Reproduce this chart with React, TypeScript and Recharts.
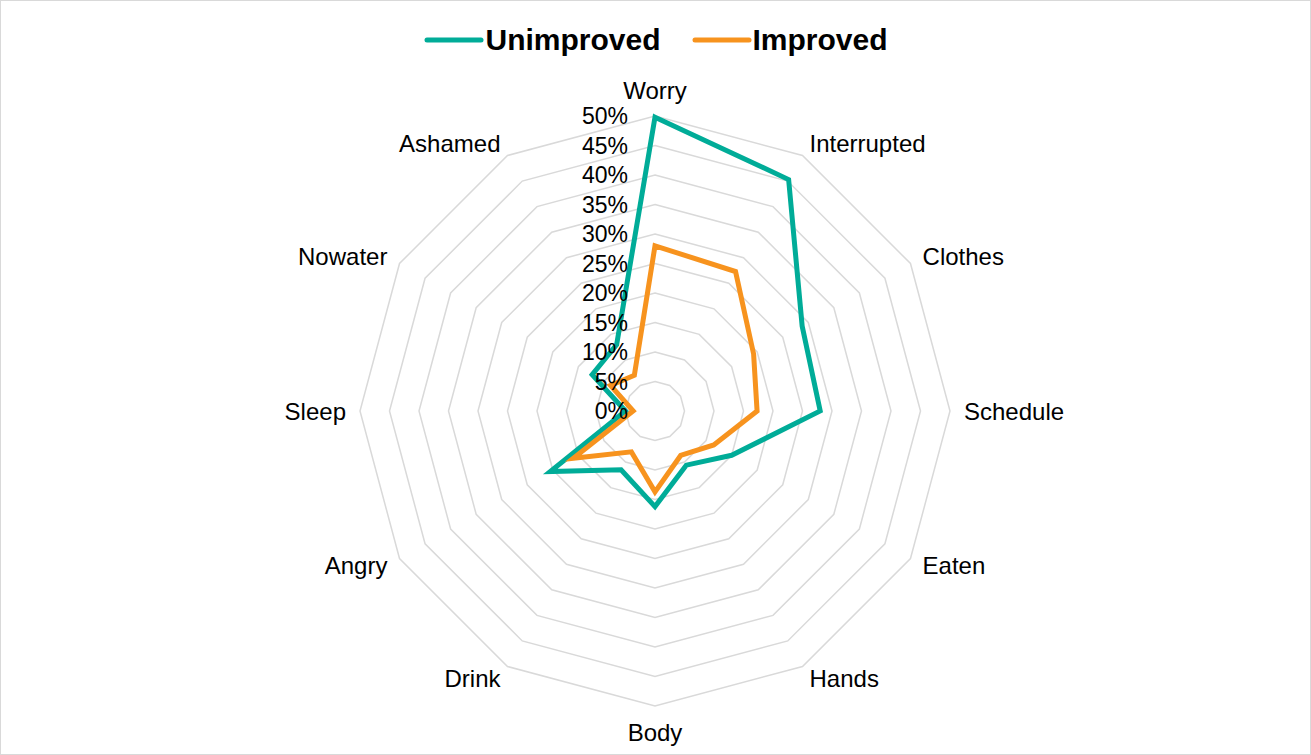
import React from 'react';
import { RadarChart, Radar, PolarGrid, PolarAngleAxis, PolarRadiusAxis } from 'recharts';

const categories = ['Worry', 'Interrupted', 'Clothes', 'Schedule', 'Eaten', 'Hands', 'Body', 'Drink', 'Angry', 'Sleep', 'Nowater', 'Ashamed'];
const unimproved = [49.8, 45.3, 28.8, 28, 15, 10.6, 16.2, 11.5, 20.5, 5, 12.3, 13];
const improved = [28, 27.3, 19.3, 17.3, 11.5, 8.7, 13.7, 8, 16, 3.7, 8.7, 7];

const TEAL = '#00AC98';
const ORANGE = '#F7931E';
const FONT = '"Liberation Sans", Arial, sans-serif';

const data = categories.map((name, i) => ({ name, unimproved: unimproved[i], improved: improved[i] }));

const AngleTick = (props: any) => {
  const { x, y, textAnchor, payload } = props;
  const rad = (payload.coordinate * Math.PI) / 180;
  const dy = textAnchor === 'middle' ? -Math.sin(rad) * 12 : 0;
  return (
    <text x={x} y={y + dy} textAnchor={textAnchor} dominantBaseline="central" fontSize={24} fontFamily={FONT} fill="#000">
      {payload.value}
    </text>
  );
};

const RadiusTick = (props: any) => {
  const { x, y, payload } = props;
  return (
    <text x={x - 27} y={y} textAnchor="end" dominantBaseline="central" fontSize={23} fontFamily={FONT} fill="#000">
      {`${Math.round(payload.value)}%`}
    </text>
  );
};

const LegendItem = ({ color, label }: { color: string; label: string }) => (
  <div style={{ display: 'flex', alignItems: 'center', gap: 0 }}>
    <svg width={62} height={10}>
      <line x1={4} y1={5} x2={58} y2={5} stroke={color} strokeWidth={5} strokeLinecap="round" />
    </svg>
    <span style={{ fontWeight: 700, fontSize: 30, fontFamily: FONT, lineHeight: '34px' }}>{label}</span>
  </div>
);

export default function App() {
  return (
    <div
      style={{
        position: 'absolute',
        left: 0,
        top: 0,
        width: 1311,
        height: 755,
        border: '1px solid #d9d9d9',
        boxSizing: 'border-box',
        background: '#fff',
      }}
    >
      <div
        style={{
          position: 'absolute',
          top: 22,
          left: 0,
          width: 1309,
          display: 'flex',
          justifyContent: 'center',
          gap: 30,
        }}
      >
        <LegendItem color={TEAL} label="Unimproved" />
        <LegendItem color={ORANGE} label="Improved" />
      </div>
      <RadarChart
        width={1309}
        height={753}
        data={data}
        cx={654}
        cy={410}
        outerRadius={295}
        margin={{ top: 0, right: 0, bottom: 0, left: 0 }}
      >
        <PolarGrid gridType="polygon" radialLines={false} stroke="#d9d9d9" strokeWidth={1.5} />
        <PolarAngleAxis dataKey="name" tick={<AngleTick />} tickLine={false} axisLine={false} tickSize={14} />
        <PolarRadiusAxis
          angle={90}
          domain={[0, 50]}
          tickCount={11}
          axisLine={false}
          tick={<RadiusTick />}
        />
        <Radar dataKey="unimproved" stroke={TEAL} strokeWidth={5} fill="none" fillOpacity={0} isAnimationActive={false} dot={false} />
        <Radar dataKey="improved" stroke={ORANGE} strokeWidth={5} fill="none" fillOpacity={0} isAnimationActive={false} dot={false} />
      </RadarChart>
    </div>
  );
}
